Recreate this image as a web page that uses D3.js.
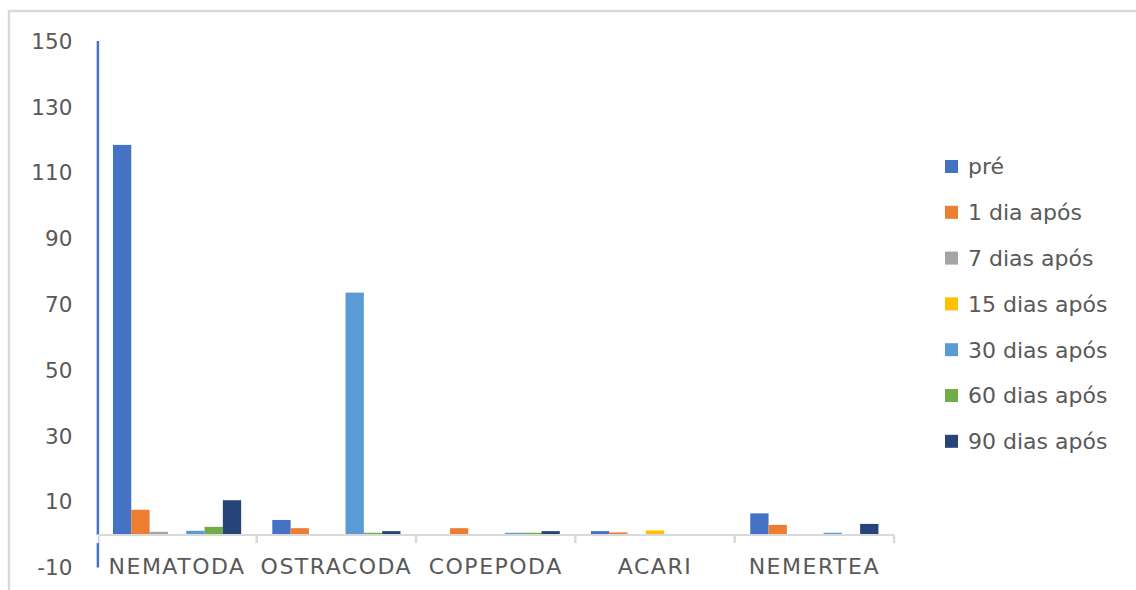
<!DOCTYPE html>
<html>
<head>
<meta charset="utf-8">
<script src="https://cdn.jsdelivr.net/npm/d3@7"></script>
<style>
  body { margin: 0; background: #fff; }
  text { font-family: "DejaVu Sans", sans-serif; fill: #595959; }
</style>
</head>
<body>
<div class="chart-container"></div>
<script>
// categories and series
const categories = ["NEMATODA", "OSTRACODA", "COPEPODA", "ACARI", "NEMERTEA"];
const seriesNames = ["pré", "1 dia após", "7 dias após", "15 dias após", "30 dias após", "60 dias após", "90 dias após"];
const pre      = [118.3, 4.3, 0,   0.9, 6.3];
const dia1     = [7.4,   1.8, 1.8, 0.5, 2.8];
const dias7    = [0.7,   0,   0,   0,   0];
const dias15   = [0,     0,   0,   1.1, 0];
const dias30   = [1.0,   73.4, 0.4, 0,  0.4];
const dias60   = [2.2,   0.4, 0.4, 0,   0];
const dias90   = [10.3,  0.9, 0.9, 0,   3.1];
const yTicks = [-10, 10, 30, 50, 70, 90, 110, 130, 150];

const seriesValues = [pre, dia1, dias7, dias15, dias30, dias60, dias90];
const colors = ["#4472C4", "#ED7D31", "#A5A5A5", "#FFC000", "#5B9BD5", "#70AD47", "#264478"];

const W = 1136, H = 590;
const margin = {top: 40.6, right: 242, bottom: 23, left: 97.4};
const width = W - margin.left - margin.right,
      height = H - margin.top - margin.bottom;

const svg = d3.select(".chart-container")
    .append("svg")
    .attr("width", W)
    .attr("height", H);

// chart frame
svg.append("rect")
    .attr("x", 9).attr("y", 11)
    .attr("width", W + 10).attr("height", H + 10)
    .attr("fill", "none")
    .attr("stroke", "#d9d9d9")
    .attr("stroke-width", 2.5);

const g = svg.append("g")
    .attr("transform", `translate(${margin.left},${margin.top})`);

const x0 = d3.scaleBand().domain(categories).range([0, width]).padding(0);
const x1 = d3.scaleBand().domain(seriesNames).range([0, x0.bandwidth()])
    .paddingInner(0).paddingOuter(0.85);
const y = d3.scaleLinear().domain([-10, 150]).range([height, 0]);

// y axis (blue line, labels only)
const yAxis = g.append("g")
    .call(d3.axisLeft(y).tickValues(yTicks).tickSize(0).tickPadding(25)
        .tickFormat(d => String(d)));
yAxis.select(".domain").attr("stroke", "#4472C4").attr("stroke-width", 2.5);
yAxis.selectAll("text")
    .style("font-family", "DejaVu Sans")
    .style("font-size", "21.5px")
    .attr("fill", "#595959")
    .attr("dy", "0.36em");

// bars
const rows = [];
categories.forEach((c, i) => {
    seriesNames.forEach((s, j) => {
        rows.push({cat: c, series: s, value: seriesValues[j][i], color: colors[j]});
    });
});

g.selectAll(".bar")
    .data(rows.filter(d => d.value > 0))
    .enter()
    .append("rect")
    .attr("class", "bar")
    .attr("x", d => x0(d.cat) + x1(d.series))
    .attr("width", x1.bandwidth())
    .attr("y", d => y(d.value))
    .attr("height", d => y(0) - y(d.value))
    .attr("fill", d => d.color);

// x axis just under zero with ticks between categories
const xAxis = g.append("g").attr("transform", `translate(0,${y(0) + 1})`);
xAxis.append("line")
    .attr("x1", 0).attr("x2", width)
    .attr("stroke", "#d9d9d9").attr("stroke-width", 2);
const bounds = categories.map(c => x0(c)).concat([width]);
xAxis.selectAll(".xtick")
    .data(bounds)
    .enter()
    .append("line")
    .attr("class", "xtick")
    .attr("x1", d => d).attr("x2", d => d)
    .attr("y1", 0).attr("y2", 8)
    .attr("stroke", (d, i) => i === 0 ? "#fff" : "#d9d9d9")
    .attr("stroke-width", 2.5);

g.selectAll(".xlabel")
    .data(categories)
    .enter()
    .append("text")
    .attr("class", "xlabel")
    .attr("x", d => x0(d) + x0.bandwidth() / 2)
    .attr("y", y(0) + 40)
    .attr("text-anchor", "middle")
    .style("font-size", "22px")
    .style("letter-spacing", "1.5px")
    .text(d => d);

// legend
const legend = svg.append("g").attr("transform", "translate(945,166.5)");
const item = legend.selectAll(".item")
    .data(seriesNames)
    .enter()
    .append("g")
    .attr("class", "item")
    .attr("transform", (d, i) => `translate(0,${i * 45.8})`);
item.append("rect")
    .attr("x", 0).attr("y", -6.5)
    .attr("width", 13).attr("height", 13)
    .attr("fill", (d, i) => colors[i]);
item.append("text")
    .attr("x", 23)
    .attr("dy", "0.36em")
    .style("font-size", "22px")
    .text(d => d);
</script>
</body>
</html>
